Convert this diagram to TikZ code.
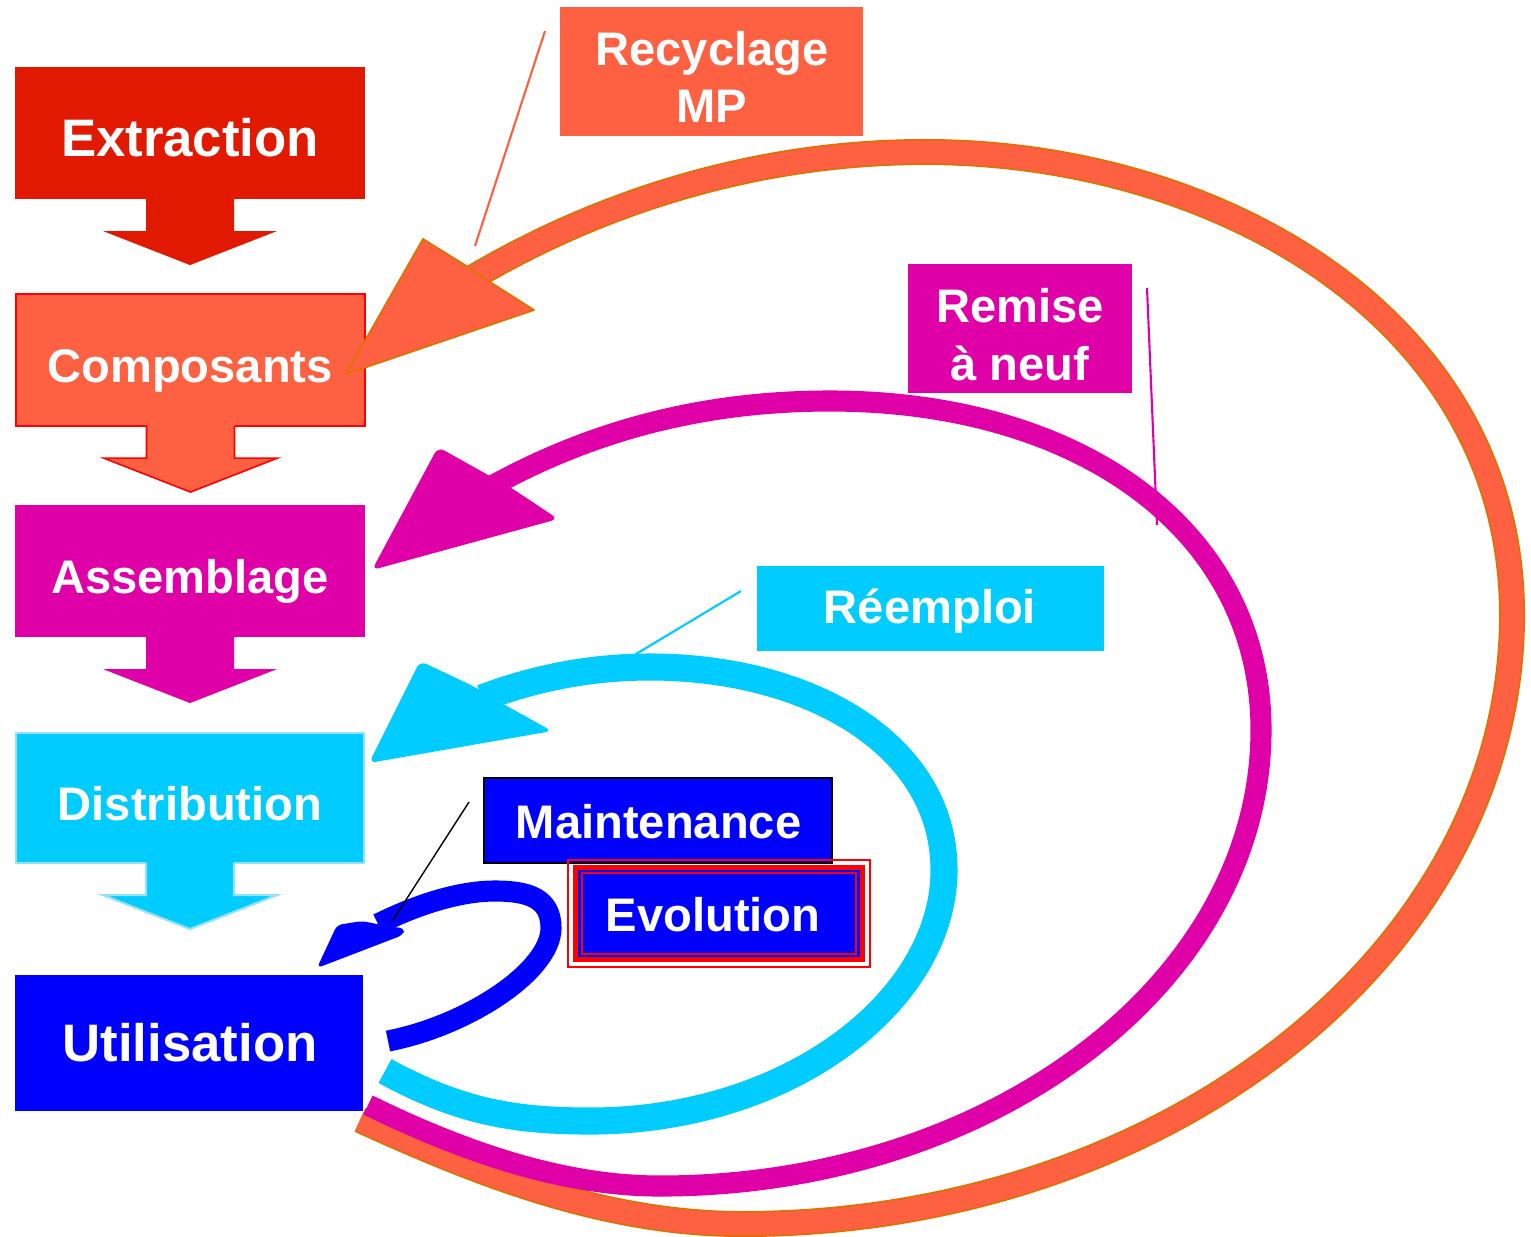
\documentclass[tikz,border=0pt]{standalone}
\usepackage{fontspec}
\setmainfont{Liberation Sans}
\usetikzlibrary{calc}

\definecolor{cRed}{RGB}{225,25,0}
\definecolor{cTom}{RGB}{253,97,66}
\definecolor{cDkOr}{RGB}{224,112,0}
\definecolor{cMag}{RGB}{224,0,168}
\definecolor{cCyan}{RGB}{0,204,255}
\definecolor{cCyanEdge}{RGB}{150,225,245}
\definecolor{cBlue}{RGB}{0,0,255}

% down block arrow hanging under a box: #1 node, #2 fill colour, #3 outline options
\newcommand{\blockarrow}[3]{%
  \fill[#2] ($(#1.south)+(-44,-2)$) -- ($(#1.south)+(-44,32)$) -- ($(#1.south)+(-87,32)$)
     -- ($(#1.south)+(0,66)$) -- ($(#1.south)+(87,32)$) -- ($(#1.south)+(44,32)$)
     -- ($(#1.south)+(44,-2)$) -- cycle;
  \draw[#3] ($(#1.south)+(-44,0)$) -- ($(#1.south)+(-44,32)$) -- ($(#1.south)+(-87,32)$)
     -- ($(#1.south)+(0,66)$) -- ($(#1.south)+(87,32)$) -- ($(#1.south)+(44,32)$)
     -- ($(#1.south)+(44,0)$);
}

\begin{document}
\begin{tikzpicture}[x=0.01cm, y=-0.01cm,
  box/.style={rectangle, inner sep=0pt, outer sep=0pt},
  lbl/.style={anchor=base, inner sep=0pt, text=white,
              font=\fontsize{13.4}{16}\selectfont\bfseries},
  lblbig/.style={lbl, font=\fontsize{15}{18}\selectfont\bfseries},
  leader/.style={line width=0.6pt},
  loopline/.style={line cap=butt},
]
\useasboundingbox (0,0) rectangle (1531,1236);
\fill[white] (0,0) rectangle (1531,1236);

% ---- life-cycle column ----
\node[box, fill=cRed, minimum width=3.5cm, minimum height=1.32cm] (ext) at (190,133) {};
\blockarrow{ext}{cRed}{draw=none}

\node[box, fill=cTom, draw=red, line width=0.45pt, minimum width=3.49cm, minimum height=1.32cm] (comp) at (190.5,360) {};
\blockarrow{comp}{cTom}{draw=red, line width=0.45pt}

\node[box, fill=cMag, minimum width=3.5cm, minimum height=1.32cm] (asm) at (190,571) {};
\blockarrow{asm}{cMag}{draw=none}

\node[box, fill=cCyan, draw=cCyanEdge, line width=0.6pt, minimum width=3.48cm, minimum height=1.30cm] (dist) at (190,798) {};
\blockarrow{dist}{cCyan}{draw=cCyanEdge, line width=0.6pt}

\node[box, fill=cBlue, minimum width=3.48cm, minimum height=1.36cm] (util) at (189,1043) {};

% ---- loop labels ----
\node[box, fill=cTom, minimum width=3.03cm, minimum height=1.29cm] (recy) at (711.5,71.5) {};
\node[box, fill=cMag, minimum width=2.24cm, minimum height=1.29cm] (remise) at (1020,328.5) {};
\node[box, fill=cCyan, minimum width=3.47cm, minimum height=0.85cm] (reemp) at (930.5,608.5) {};
\node[box, fill=cBlue, draw=black, line width=0.6pt, minimum width=3.48cm, minimum height=0.85cm] (maint) at (658,820.5) {};
\node[box, draw=red, line width=0.55pt, minimum width=3.02cm, minimum height=1.07cm] (evol) at (719.3,913.6) {};
\draw[red, line width=1.4pt, fill=cBlue] ($(evol.north west)+(7.5,7.5)$) rectangle ($(evol.south east)+(-7.5,-7.5)$);
\draw[red, line width=0.55pt] ($(evol.north west)+(14,13)$) rectangle ($(evol.south east)+(-14,-13.5)$);

% ---- loop end points ----
\coordinate (oT) at (360,1120);  \coordinate (oH) at (462,284);
\coordinate (mT) at (368,1105);  \coordinate (mH) at (492,486);
\coordinate (cT) at (385,1071);  \coordinate (cH) at (482,698);
\coordinate (bT) at (388,1041);  \coordinate (bH) at (378,924);

% recycling loop (Utilisation -> Composants)
\draw[loopline, draw=cDkOr, double=cTom, line width=0.5pt, double distance=6.4pt]
  (oT) .. controls (470,1170) and (600,1224) .. (742,1224)
       .. controls (1167,1224) and (1512,951) .. (1512,615)
       .. controls (1512,320) and (1220,152) .. (925,152)
       .. controls (760,152) and (600,200) .. (oH);
\draw[fill=cTom, draw=cDkOr, line width=0.5pt, line join=round]
  (346,374) -- (423,239) -- (468,267) -- (490,282) -- (534,310) -- cycle;

% refurbishing loop (Utilisation -> Assemblage)
\draw[loopline, draw=cMag, line width=6pt]
  (mT) .. controls (460,1150) and (560,1186) .. (660,1186)
       .. controls (992,1186) and (1261,982) .. (1261,730)
       .. controls (1261,530) and (1080,401) .. (830,401)
       .. controls (700,401) and (590,432) .. (mH);
\fill[cMag, rounded corners=2pt]
  (372,570) -- (438,447) -- (488,475) -- (513,489) -- (558,519) -- cycle;

% reuse loop (Utilisation -> Distribution)
\draw[loopline, draw=cCyan, line width=7.7pt]
  (cT) .. controls (460,1112) and (515,1121) .. (590,1121)
       .. controls (790,1121) and (944,1000) .. (944,870)
       .. controls (944,745) and (810,667) .. (650,667)
       .. controls (585,667) and (530,680) .. (cH);
\fill[cCyan, rounded corners=2pt]
  (369,763) -- (420,661) -- (473,686) -- (505,705) -- (552,731) -- cycle;

% maintenance loop (back to Utilisation)
\draw[loopline, draw=cBlue, line width=6pt]
  (bT) .. controls (470,1025) and (551,970) .. (551,928)
       .. controls (551,898) and (528,891) .. (495,891)
       .. controls (455,891) and (410,908) .. (bH);
\fill[cBlue, rounded corners=1.5pt]
  (317,968) -- (337,925) -- (362,921) -- (392,927) -- (405,928) -- (403,935) -- cycle;

% ---- leader lines from labels to loops ----
\coordinate (recyA) at (545,31);    \coordinate (recyB) at (475,246);
\coordinate (remA) at (1147,288);   \coordinate (remB) at (1157,525);
\coordinate (reeA) at (741,591);    \coordinate (reeB) at (636,654);
\coordinate (maiA) at (469,802);    \coordinate (maiB) at (393,920);
\draw[leader, cTom] (recyA) -- (recyB);
\draw[leader, cMag] (remA) -- (remB);
\draw[leader, cCyan] (reeA) -- (reeB);
\draw[line width=0.4pt, black] (maiA) -- (maiB);

% ---- texts ----
\node[lblbig] (t-ext) at (190,156) {Extraction};
\node[lbl] (t-comp) at (190,382) {Composants};
\node[lbl] (t-asm) at (190,593) {Assemblage};
\node[lbl] (t-dist) at (190,820) {Distribution};
\node[lblbig] (t-util) at (190,1061) {Utilisation};
\node[lbl] (t-recy1) at (712,65) {Recyclage};
\node[lbl] (t-recy2) at (712,122) {MP};
\node[lbl] (t-rem1) at (1020,322) {Remise};
\node[lbl] (t-rem2) at (1020,380) {à neuf};
\node[lbl] (t-reemp) at (930,623) {Réemploi};
\node[lbl] (t-maint) at (658.5,838) {Maintenance};
\node[lbl] (t-evol) at (713,931) {Evolution};
\end{tikzpicture}
\end{document}
